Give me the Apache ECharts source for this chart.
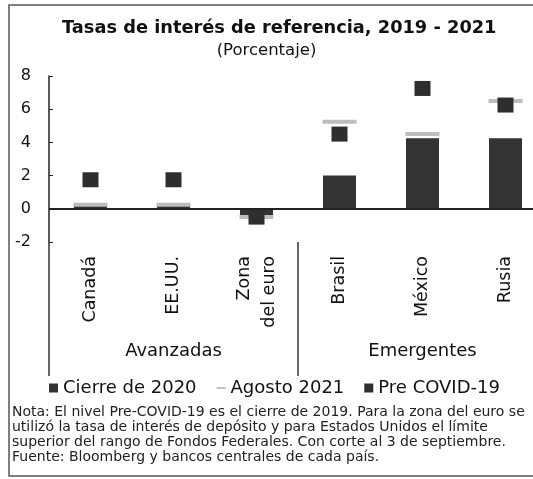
<!DOCTYPE html>
<html><head><meta charset="utf-8">
<script src="https://cdn.jsdelivr.net/npm/echarts@6/dist/echarts.min.js"></script>
<style>html,body{margin:0;padding:0;background:#fff}#c{width:533px;height:479px}</style>
</head><body><div id="c"></div>
<script>
const categories = ['Canadá', 'EE.UU.', 'Zona\ndel euro', 'Brasil', 'México', 'Rusia'];
const groups = ['Avanzadas', 'Emergentes'];
const cierre2020 = [0.25, 0.25, -0.5, 2.0, 4.25, 4.25];
const agosto2021 = [0.25, 0.25, -0.5, 5.25, 4.5, 6.5];
const preCovid = [1.75, 1.75, -0.5, 4.5, 7.25, 6.25];
const yTicks = { min: -2, max: 8, interval: 2 };
const noteLines = [
  'Nota: El nivel Pre-COVID-19 es el cierre de 2019. Para la zona del euro se',
  'utilizó la tasa de interés de depósito y para Estados Unidos el límite',
  'superior del rango de Fondos Federales. Con corte al 3 de septiembre.',
  'Fuente: Bloomberg y bancos centrales de cada país.'
];

const FONT = 'DejaVu Sans';
const chart = echarts.init(document.getElementById('c'), null, { renderer: 'canvas' });
chart.setOption({
  backgroundColor: '#fff',
  animation: false,
  textStyle: { fontFamily: FONT, color: '#111' },
  title: [
    {
      text: 'Tasas de interés de referencia, 2019 - 2021',
      left: 62, top: 19, padding: 0,
      textStyle: { fontFamily: FONT, fontWeight: 'bold', fontSize: 17.8, color: '#111' }
    },
    {
      text: '(Porcentaje)',
      left: 'center', top: 42, padding: 0,
      textStyle: { fontFamily: FONT, fontWeight: 'normal', fontSize: 16.5, color: '#111' }
    }
  ],
  legend: {
    top: 374, left: 44, itemGap: 20, itemWidth: 9, itemHeight: 9,
    textStyle: { fontFamily: FONT, fontSize: 18, color: '#111' },
    data: [
      { name: 'Cierre de 2020', icon: 'rect' },
      { name: 'Agosto 2021', icon: 'path://M0,4h10v2h-10z' },
      { name: 'Pre COVID-19', icon: 'rect' }
    ]
  },
  grid: { left: 49, top: 76, width: 498, height: 166, outerBoundsMode: 'none', containLabel: false },
  xAxis: [
    {
      type: 'category', data: categories, position: 'bottom',
      axisLine: { show: false }, axisTick: { show: false },
      axisLabel: { rotate: 90, margin: 14, fontSize: 17.5, color: '#111', fontFamily: FONT, lineHeight: 25, interval: 0 }
    },
    {
      type: 'category', data: groups, position: 'bottom', offset: 0,
      axisLine: { show: false },
      axisTick: { show: true, alignWithLabel: false, length: 134, lineStyle: { color: '#333', width: 1.5 } },
      axisLabel: { margin: 100, fontSize: 18, color: '#111', fontFamily: FONT }
    }
  ],
  yAxis: {
    type: 'value', min: yTicks.min, max: yTicks.max, interval: yTicks.interval,
    axisLine: { show: true, lineStyle: { color: '#222', width: 1.5 } },
    axisTick: { show: true, inside: true, length: 4, lineStyle: { color: '#222' } },
    splitLine: { show: false },
    axisLabel: { margin: 18, fontSize: 16, color: '#111', fontFamily: FONT }
  },
  series: [
    {
      name: 'Cierre de 2020', type: 'bar', data: cierre2020, barWidth: 33,
      itemStyle: { color: '#333' },
      markLine: {
        silent: true, symbol: 'none', label: { show: false },
        lineStyle: { color: '#222', width: 2, type: 'solid' },
        data: [{ yAxis: 0 }]
      }
    },
    {
      name: 'Agosto 2021', type: 'scatter', data: agosto2021,
      symbol: 'rect', symbolSize: [34, 4],
      itemStyle: { color: '#bdbdbd', opacity: 1 }
    },
    {
      name: 'Pre COVID-19', type: 'scatter', data: preCovid,
      symbol: 'rect', symbolSize: [16, 15],
      itemStyle: { color: '#2e2e2e', opacity: 1 }
    }
  ],
  graphic: [
    { type: 'polyline', shape: { points: [[560, 5], [9, 5], [9, 476], [560, 476]] }, style: { fill: 'none', stroke: '#555', lineWidth: 1.5 }, silent: true },
    { type: 'text', left: 12, top: 405, style: { text: noteLines.join('\n'), fontFamily: FONT, fontSize: 14, lineHeight: 15, fill: '#222' } }
  ]
});
</script></body></html>
